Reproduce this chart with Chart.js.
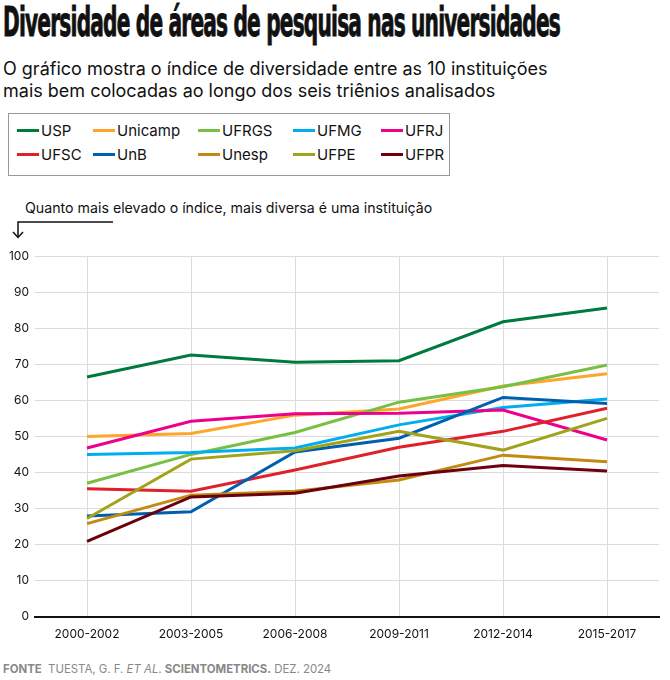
<!DOCTYPE html>
<html>
<head>
<meta charset="utf-8">
<script src="https://cdn.jsdelivr.net/npm/chart.js@4"></script>
<style>
  body { margin: 0; background: #fff; font-family: Inter, "Noto Sans", sans-serif; color: #111; }
  #wrap { position: relative; width: 670px; height: 680px; overflow: hidden; }
  h1 { position: absolute; left: 3px; top: -2px; margin: 0; font-family: "DejaVu Sans Condensed", "Liberation Sans Narrow", sans-serif;
       font-weight: bold; font-size: 41px; letter-spacing: -1.5px; transform-origin: left top; white-space: nowrap; display: inline-block;
       -webkit-text-stroke: 0.9px #111; }
  #sub { position: absolute; left: 3px; top: 58px; font-size: 18px; line-height: 22px; }
  #legend { position: absolute; left: 8px; top: 113px; width: 440px; height: 61px; border: 1px solid #999; }
  .item { position: absolute; font-size: 15px; display: flex; align-items: center; }
  .item span.sw { display: inline-block; width: 22px; height: 3px; margin-right: 2px; }
  #note { position: absolute; left: 25px; top: 199px; font-size: 14.2px; }
  #foot { position: absolute; left: 3px; top: 662px; font-size: 11.4px; color: #888; }
  #chart { position: absolute; left: 0; top: 243px; }
</style>
</head>
<body>
<div id="wrap">
  <h1 id="titulo">Diversidade de áreas de pesquisa nas universidades</h1>
  <div id="sub">O gráfico mostra o índice de diversidade entre as 10 instituições<br>mais bem colocadas ao longo dos seis triênios analisados</div>
  <div id="legend"></div>
  <div id="note">Quanto mais elevado o índice, mais diversa é uma instituição</div>
  <svg style="position:absolute;left:0;top:215px" width="130" height="30">
    <path d="M113 7 H18 V22" fill="none" stroke="#111" stroke-width="1.5"/>
    <path d="M13 17 L18 22.5 L23 17" fill="none" stroke="#111" stroke-width="1.5"/>
  </svg>
  <canvas id="chart" width="670" height="410"></canvas>
  <div id="foot"><b>FONTE</b>&nbsp; TUESTA, G. F. <i>ET AL</i>. <b>SCIENTOMETRICS.</b> DEZ. 2024</div>
</div>
<script>
const periodos = ['2000-2002', '2003-2005', '2006-2008', '2009-2011', '2012-2014', '2015-2017'];
const instituicoes = ['USP', 'Unicamp', 'UFRGS', 'UFMG', 'UFRJ', 'UFSC', 'UnB', 'Unesp', 'UFPE', 'UFPR'];
const cores = ['#007a3d', '#ffa52a', '#78c043', '#00aeef', '#ec008c', '#e0202a', '#0060ae', '#c38a12', '#a2a31c', '#6b000f'];

const usp     = [66.5, 72.6, 70.6, 71.0, 81.8, 85.6];
const unicamp = [50.0, 50.8, 55.9, 57.6, 64.0, 67.4];
const ufrgs   = [37.0, 45.0, 51.1, 59.5, 63.8, 69.8];
const ufmg    = [45.0, 45.5, 46.8, 53.2, 58.0, 60.4];
const ufrj    = [46.8, 54.2, 56.3, 56.4, 57.3, 49.0];
const ufsc    = [35.5, 34.8, 40.7, 47.0, 51.4, 57.8];
const unb     = [27.9, 29.1, 45.7, 49.5, 60.8, 59.1];
const unesp   = [25.8, 33.7, 34.8, 37.9, 44.8, 43.0];
const ufpe    = [27.2, 43.7, 46.0, 51.4, 46.2, 55.0];
const ufpr    = [20.9, 33.2, 34.2, 39.0, 41.9, 40.4];

const series = [usp, unicamp, ufrgs, ufmg, ufrj, ufsc, unb, unesp, ufpe, ufpr];
const yTicks = [0, 10, 20, 30, 40, 50, 60, 70, 80, 90, 100];

// titulo condensado: ajusta a largura
const titulo = document.getElementById('titulo');
titulo.style.transform = `scaleX(${557 / titulo.offsetWidth})`;

// legenda em HTML
const colX = [8, 84, 189, 284, 372];
const legend = document.getElementById('legend');
instituicoes.forEach((nome, i) => {
  const div = document.createElement('div');
  div.className = 'item';
  div.style.left = colX[i % 5] + 'px';
  div.style.top = (i < 5 ? 7 : 31) + 'px';
  div.innerHTML = `<span class="sw" style="background:${cores[i]}"></span>${nome}`;
  legend.appendChild(div);
});

new Chart(document.getElementById('chart'), {
  type: 'line',
  data: {
    labels: periodos,
    datasets: instituicoes.map((nome, i) => ({
      label: nome,
      data: series[i],
      borderColor: cores[i],
      borderWidth: 3,
      pointRadius: 0,
      tension: 0,
      order: -i
    }))
  },
  options: {
    responsive: false,
    animation: false,
    devicePixelRatio: 1,
    layout: { padding: { top: 10, right: 11, left: 0, bottom: 0 } },
    plugins: { legend: { display: false }, tooltip: { enabled: false } },
    scales: {
      x: {
        offset: true,
        grid: { offset: false, color: '#dcdcdc', drawTicks: false },
        border: { color: '#111', width: 2 },
        ticks: { color: '#111', padding: 11, font: { family: 'Inter', size: 12 }, maxRotation: 0 }
      },
      y: {
        min: 0, max: 100,
        afterBuildTicks: ax => { ax.ticks = yTicks.map(v => ({ value: v })); },
        afterFit: ax => { ax.width = 35; },
        grid: { color: '#dcdcdc', drawTicks: false },
        border: { display: false },
        ticks: { color: '#111', padding: 6, font: { family: 'Inter', size: 12 } }
      }
    }
  }
});
</script>
</body>
</html>
